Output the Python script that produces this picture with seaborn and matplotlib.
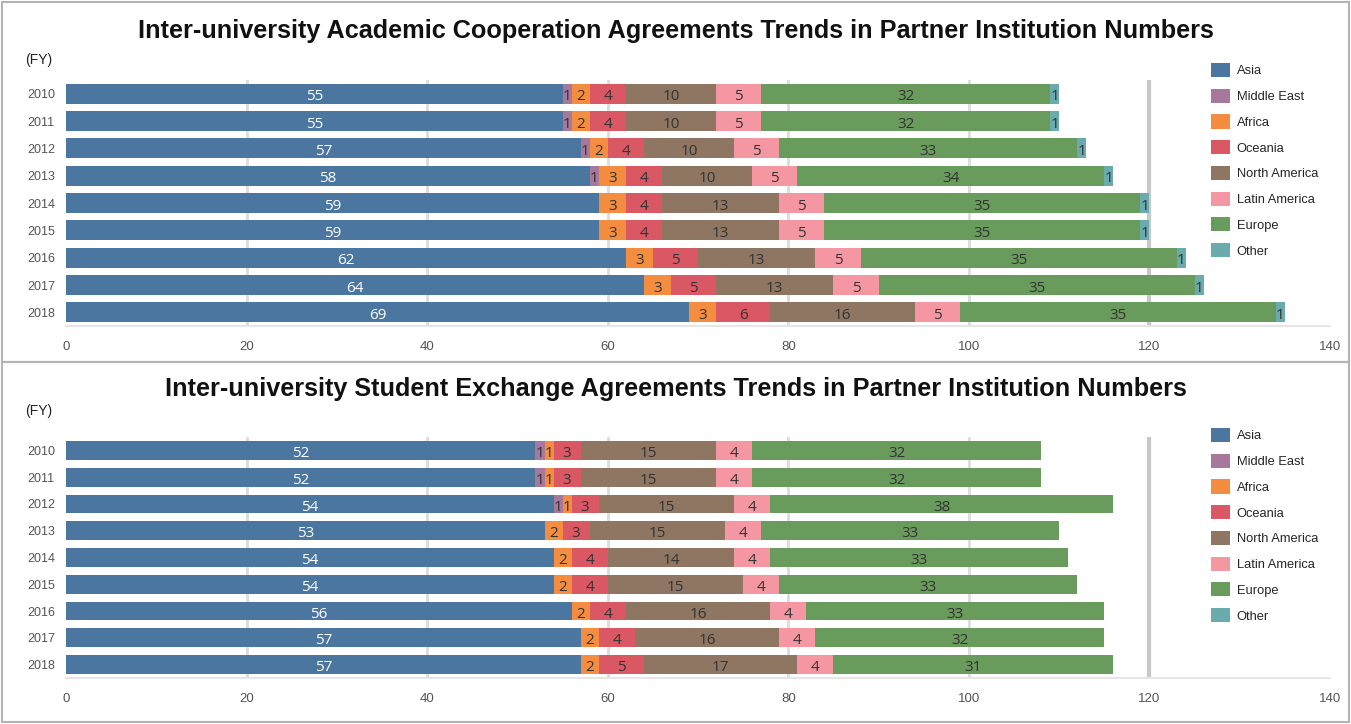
import numpy as np
import pandas as pd
import matplotlib
matplotlib.use("Agg")
import matplotlib.pyplot as plt
import seaborn as sns
from matplotlib.patches import Patch, Rectangle

# --- Datos ---
years = ["2010", "2011", "2012", "2013", "2014", "2015", "2016", "2017", "2018"]
regions = ["Asia", "Middle East", "Africa", "Oceania", "North America",
           "Latin America", "Europe", "Other"]
colors = ["#4a76a0", "#a5789c", "#f48d3f", "#d95863", "#8f7663",
          "#f597a2", "#699b5c", "#6aabad"]

# Acuerdos de cooperacion academica
acad_asia = [55, 55, 57, 58, 59, 59, 62, 64, 69]
acad_middle_east = [1, 1, 1, 1, 0, 0, 0, 0, 0]
acad_africa = [2, 2, 2, 3, 3, 3, 3, 3, 3]
acad_oceania = [4, 4, 4, 4, 4, 4, 5, 5, 6]
acad_north_america = [10, 10, 10, 10, 13, 13, 13, 13, 16]
acad_latin_america = [5, 5, 5, 5, 5, 5, 5, 5, 5]
acad_europe = [32, 32, 33, 34, 35, 35, 35, 35, 35]
acad_other = [1, 1, 1, 1, 1, 1, 1, 1, 1]

# Acuerdos de intercambio estudiantil
stud_asia = [52, 52, 54, 53, 54, 54, 56, 57, 57]
stud_middle_east = [1, 1, 1, 0, 0, 0, 0, 0, 0]
stud_africa = [1, 1, 1, 2, 2, 2, 2, 2, 2]
stud_oceania = [3, 3, 3, 3, 4, 4, 4, 4, 5]
stud_north_america = [15, 15, 15, 15, 14, 15, 16, 16, 17]
stud_latin_america = [4, 4, 4, 4, 4, 4, 4, 4, 4]
stud_europe = [32, 32, 38, 33, 33, 33, 33, 32, 31]
stud_other = [0, 0, 0, 0, 0, 0, 0, 0, 0]

df_acad = pd.DataFrame({"Year": years, "Asia": acad_asia, "Middle East": acad_middle_east,
                        "Africa": acad_africa, "Oceania": acad_oceania,
                        "North America": acad_north_america,
                        "Latin America": acad_latin_america,
                        "Europe": acad_europe, "Other": acad_other})
df_stud = pd.DataFrame({"Year": years, "Asia": stud_asia, "Middle East": stud_middle_east,
                        "Africa": stud_africa, "Oceania": stud_oceania,
                        "North America": stud_north_america,
                        "Latin America": stud_latin_america,
                        "Europe": stud_europe, "Other": stud_other})

sns.set_style("white")
plt.rcParams["font.family"] = ["Liberation Sans", "DejaVu Sans"]

fig = plt.figure(figsize=(13.51, 7.24), dpi=100)

W, H = 1351, 724


def panel(df, title, ax_box, title_y, fy_y, legend_y, bar_h):
    left, top, right, bottom = ax_box
    ax = fig.add_axes([left / W, 1 - bottom / H, (right - left) / W, (bottom - top) / H])

    # Apilado: se dibujan las sumas acumuladas de mayor a menor
    cum = df[regions].cumsum(axis=1)
    for i in range(len(regions) - 1, -1, -1):
        sns.barplot(x=cum[regions[i]], y=df["Year"], order=years, color=colors[i],
                    width=bar_h, linewidth=0, errorbar=None, ax=ax, saturation=1,
                    zorder=3)

    # Etiquetas de cada segmento
    for i, reg in enumerate(regions):
        starts = cum[reg] - df[reg]
        for j in range(len(years)):
            v = df[reg].iloc[j]
            if v <= 0:
                continue
            ax.text(starts.iloc[j] + v / 2, j + 0.04, str(v), ha="center",
                    va="center_baseline", fontsize=11,
                    family=["Open Sans", "DejaVu Sans"],
                    color="white" if reg == "Asia" else "#333333", zorder=5)

    ax.set_xlim(0, 140)
    ax.set_xticks(range(0, 141, 20))
    ax.set_ylabel("")
    ax.set_xlabel("")
    # Lineas de referencia verticales (sin 0 ni 140)
    for xv in [20, 40, 60, 80, 100]:
        ax.axvline(xv, color="#dcdcdc", linewidth=2, zorder=0)
    ax.axvline(120, color="#c8c8c8", linewidth=3, zorder=1)
    for s in ["top", "right", "left"]:
        ax.spines[s].set_visible(False)
    ax.spines["bottom"].set_color("#e6e6e6")
    ax.spines["bottom"].set_linewidth(1.5)
    ax.tick_params(axis="x", length=0, pad=11, labelsize=9.5, labelcolor="#555555")
    ax.tick_params(axis="y", length=0, pad=8, labelsize=9, labelcolor="#555555")

    fig.text(0.5, 1 - title_y / H, title, ha="center", va="center",
             fontsize=18.2, fontweight="bold", color="#111111")
    fig.text(25 / W, 1 - fy_y / H, "(FY)", ha="left", va="center", fontsize=10,
             color="#222222")

    handles = [Patch(facecolor=c, edgecolor="none") for c in colors]
    fig.legend(handles, regions, loc="upper left",
               bbox_to_anchor=(1211 / W, 1 - legend_y / H), frameon=False,
               fontsize=9.3, handlelength=1.45, handleheight=1.3, handletextpad=0.55,
               labelspacing=0.88, borderaxespad=0, borderpad=0)
    return ax


panel(df_acad, "Inter-university Academic Cooperation Agreements Trends in Partner Institution Numbers",
      (66, 80, 1330, 326), 31, 60, 63, 0.73)
panel(df_stud, "Inter-university Student Exchange Agreements Trends in Partner Institution Numbers",
      (66, 437, 1330, 678), 389, 411, 428, 0.70)

# Marcos de los paneles
for (y0, y1) in [(2, 362), (362, 722)]:
    fig.add_artist(Rectangle((2 / W, 1 - y1 / H), (W - 4) / W, (y1 - y0) / H,
                             transform=fig.transFigure, fill=False,
                             edgecolor="#b4b4b4", linewidth=1.5))

plt.savefig("out.png", dpi=100)
print("Grafico 'out.png' guardado.")
